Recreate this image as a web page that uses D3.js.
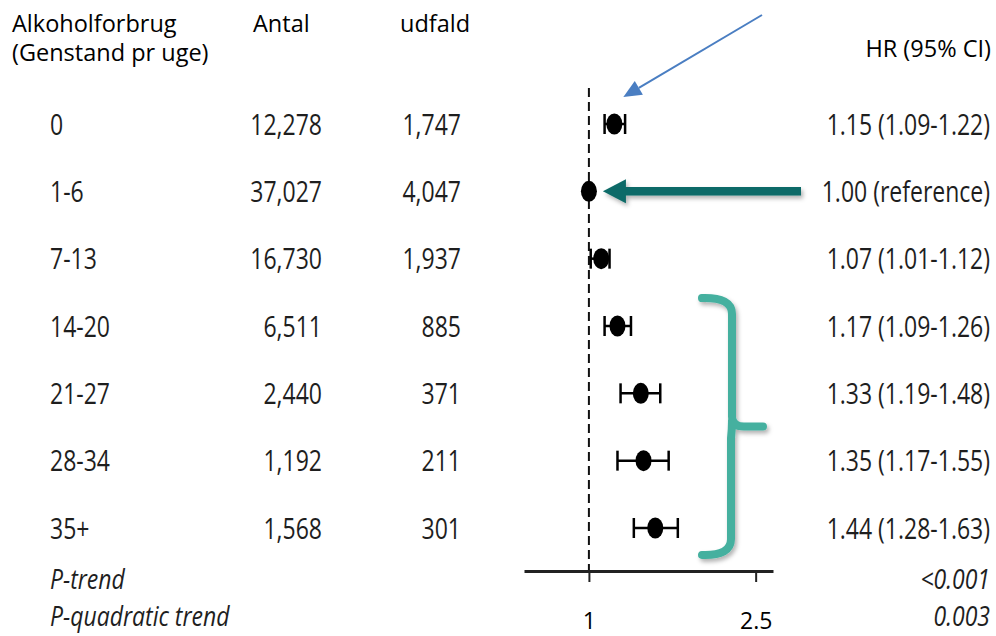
<!DOCTYPE html>
<html>
<head>
<meta charset="utf-8">
<script src="https://cdn.jsdelivr.net/npm/d3@7"></script>
<style>
  html, body { margin: 0; padding: 0; background: #fff; }
  svg { display: block; }
  .hdr { font-family: "Open Sans", sans-serif; font-size: 23.5px; fill: #000; }
  .row { font-family: "Open Sans", sans-serif; font-size: 23px; fill: #1e1e1e; }
  .trend { font-family: "Open Sans", sans-serif; font-size: 23px; font-style: italic; fill: #1e1e1e; }
  .axis text { font-family: "Open Sans", sans-serif; font-size: 23px; fill: #000; }
</style>
</head>
<body>
<svg id="chart" width="996" height="636"></svg>
<script>
// Alcohol intake groups (drinks per week) and cohort counts
const categories = ["0", "1-6", "7-13", "14-20", "21-27", "28-34", "35+"];
const antal      = [12278, 37027, 16730, 6511, 2440, 1192, 1568];
const udfald     = [1747, 4047, 1937, 885, 371, 211, 301];

// Hazard ratios with 95% confidence limits (1-6 is the reference group)
const hr    = [1.15, 1.00, 1.07, 1.17, 1.33, 1.35, 1.44];
const lower = [1.09, null, 1.01, 1.09, 1.19, 1.17, 1.28];
const upper = [1.22, null, 1.12, 1.26, 1.48, 1.55, 1.63];

// Trend tests shown under the table
const trendNames  = ["P-trend", "P-quadratic trend"];
const trendValues = ["<0.001", "0.003"];

// Axis ticks
const xTicks = [1, 2.5];

const svg = d3.select("#chart");
const fmt = d3.format(",");
const f2 = d3.format(".2f");

const x = d3.scaleLog().domain([0.7, 2.75]).range([524, 773]);
const y = d3.scalePoint().domain(categories).range([124, 528]);
const axisY = 571;
const textScaleY = 1.28;

const defs = svg.append("defs");
const shadow = defs.append("filter").attr("id", "shadow")
  .attr("x", "-20%").attr("y", "-50%").attr("width", "140%").attr("height", "200%");
shadow.append("feDropShadow").attr("dx", 2).attr("dy", 3)
  .attr("stdDeviation", 2).attr("flood-color", "#000").attr("flood-opacity", 0.3);

// Column headers
svg.append("text").attr("class", "hdr").attr("x", 12).attr("y", 32).text("Alkoholforbrug");
svg.append("text").attr("class", "hdr").attr("x", 12).attr("y", 61).text("(Genstand pr uge)");
svg.append("text").attr("class", "hdr").attr("x", 253).attr("y", 32).text("Antal");
svg.append("text").attr("class", "hdr").attr("x", 400).attr("y", 32).text("udfald");
svg.append("text").attr("class", "hdr").attr("x", 991).attr("y", 57)
  .attr("text-anchor", "end").text("HR (95% CI)");

// Table rows
const rows = svg.append("g").selectAll("g").data(categories).join("g");

function rowText(sel, xPos, anchor, fn) {
  sel.append("text")
    .attr("class", "row")
    .attr("text-anchor", anchor)
    .attr("transform", d => `translate(${xPos},${y(d)}) scale(1,${textScaleY})`)
    .attr("dy", "0.36em")
    .text(fn);
}
rowText(rows, 50, "start", d => d);
rowText(rows, 322, "end", (d, i) => fmt(antal[i]));
rowText(rows, 461, "end", (d, i) => fmt(udfald[i]));
rowText(rows, 990, "end", (d, i) =>
  lower[i] == null ? `${f2(hr[i])} (reference)` : `${f2(hr[i])} (${f2(lower[i])}-${f2(upper[i])})`);

// Trend rows
const trendScaleY = 1.2;
trendNames.forEach((name, i) => {
  const ty = [579, 616][i];
  svg.append("text").attr("class", "trend").attr("dy", "0.36em")
    .attr("transform", `translate(50,${ty}) scale(1,${trendScaleY})`).text(name);
  svg.append("text").attr("class", "trend").attr("dy", "0.36em").attr("text-anchor", "end")
    .attr("transform", `translate(990,${ty}) scale(1,${trendScaleY})`).text(trendValues[i]);
});

// Reference line at HR = 1
svg.append("line")
  .attr("x1", x(1)).attr("x2", x(1))
  .attr("y1", 88).attr("y2", axisY)
  .attr("stroke", "#111").attr("stroke-width", 2).attr("stroke-dasharray", "9,5");

// Axis
const axis = svg.append("g").attr("class", "axis")
  .attr("transform", `translate(0,${axisY})`)
  .call(d3.axisBottom(x).tickValues(xTicks).tickSizeInner(11).tickSizeOuter(0)
    .tickPadding(31).tickFormat(d3.format("")));
axis.select(".domain").attr("stroke", "#222").attr("stroke-width", 3);
axis.selectAll(".tick line").attr("stroke", "#222").attr("stroke-width", 2);

// Confidence intervals
const ci = svg.append("g").selectAll("g")
  .data(categories.map((c, i) => ({ c, i })).filter(d => lower[d.i] != null))
  .join("g").attr("stroke", "#000").attr("stroke-width", 2.5);
ci.append("line").attr("x1", d => x(lower[d.i])).attr("x2", d => x(upper[d.i]))
  .attr("y1", d => y(d.c)).attr("y2", d => y(d.c));
ci.append("line").attr("x1", d => x(lower[d.i])).attr("x2", d => x(lower[d.i]))
  .attr("y1", d => y(d.c) - 10).attr("y2", d => y(d.c) + 10);
ci.append("line").attr("x1", d => x(upper[d.i])).attr("x2", d => x(upper[d.i]))
  .attr("y1", d => y(d.c) - 10).attr("y2", d => y(d.c) + 10);

// Point estimates
svg.append("g").selectAll("ellipse").data(categories).join("ellipse")
  .attr("cx", (d, i) => x(hr[i])).attr("cy", d => y(d))
  .attr("rx", 8).attr("ry", 10.5).attr("fill", "#000");

// Blue pointer toward the abstainers' estimate
const bTip = [x(hr[0]) + 9, y(categories[0]) - 27];
const bTail = [762, 15];
const bAng = Math.atan2(bTip[1] - bTail[1], bTip[0] - bTail[0]);
const bLen = 18, bHalf = 8;
const bBase = [bTip[0] - bLen * Math.cos(bAng), bTip[1] - bLen * Math.sin(bAng)];
svg.append("line").attr("x1", bTail[0]).attr("y1", bTail[1])
  .attr("x2", bBase[0]).attr("y2", bBase[1])
  .attr("stroke", "#4a7ec2").attr("stroke-width", 2);
svg.append("path").attr("fill", "#4a7ec2").attr("d", d3.line()([
  bTip,
  [bBase[0] + bHalf * Math.sin(bAng), bBase[1] - bHalf * Math.cos(bAng)],
  [bBase[0] - bHalf * Math.sin(bAng), bBase[1] + bHalf * Math.cos(bAng)]
]));

// Teal arrow toward the reference estimate
const tY = y(categories[1]);
const tTip = x(1) + 14;
const tg = svg.append("g").attr("filter", "url(#shadow)");
tg.append("line").attr("x1", 801).attr("x2", tTip + 20).attr("y1", tY).attr("y2", tY)
  .attr("stroke", "#0c6b67").attr("stroke-width", 8.5);
tg.append("path").attr("fill", "#0c6b67")
  .attr("d", d3.line()([[tTip, tY], [tTip + 23, tY - 12], [tTip + 23, tY + 12]]));

// Brace grouping the higher intake groups
const braceTop = y(categories[3]) - 28, braceBot = y(categories[6]) + 27;
const bx = 732, braceMid = (braceTop + braceBot) / 2;
svg.append("path")
  .attr("filter", "url(#shadow)")
  .attr("fill", "none").attr("stroke", "#45b09f").attr("stroke-width", 8)
  .attr("stroke-linecap", "round")
  .attr("d", `M702,${braceTop} Q${bx},${braceTop - 1} ${bx},${braceTop + 16} L${bx},${braceMid - 10}
              Q${bx},${braceMid} ${bx + 12},${braceMid} L${bx + 31},${braceMid}
              M${bx},${braceMid - 6} Q${bx},${braceMid + 2} ${bx - 1},${braceMid + 12}
              L${bx - 1},${braceBot - 16} Q${bx - 1},${braceBot + 1} 702,${braceBot}`);
</script>
</body>
</html>
